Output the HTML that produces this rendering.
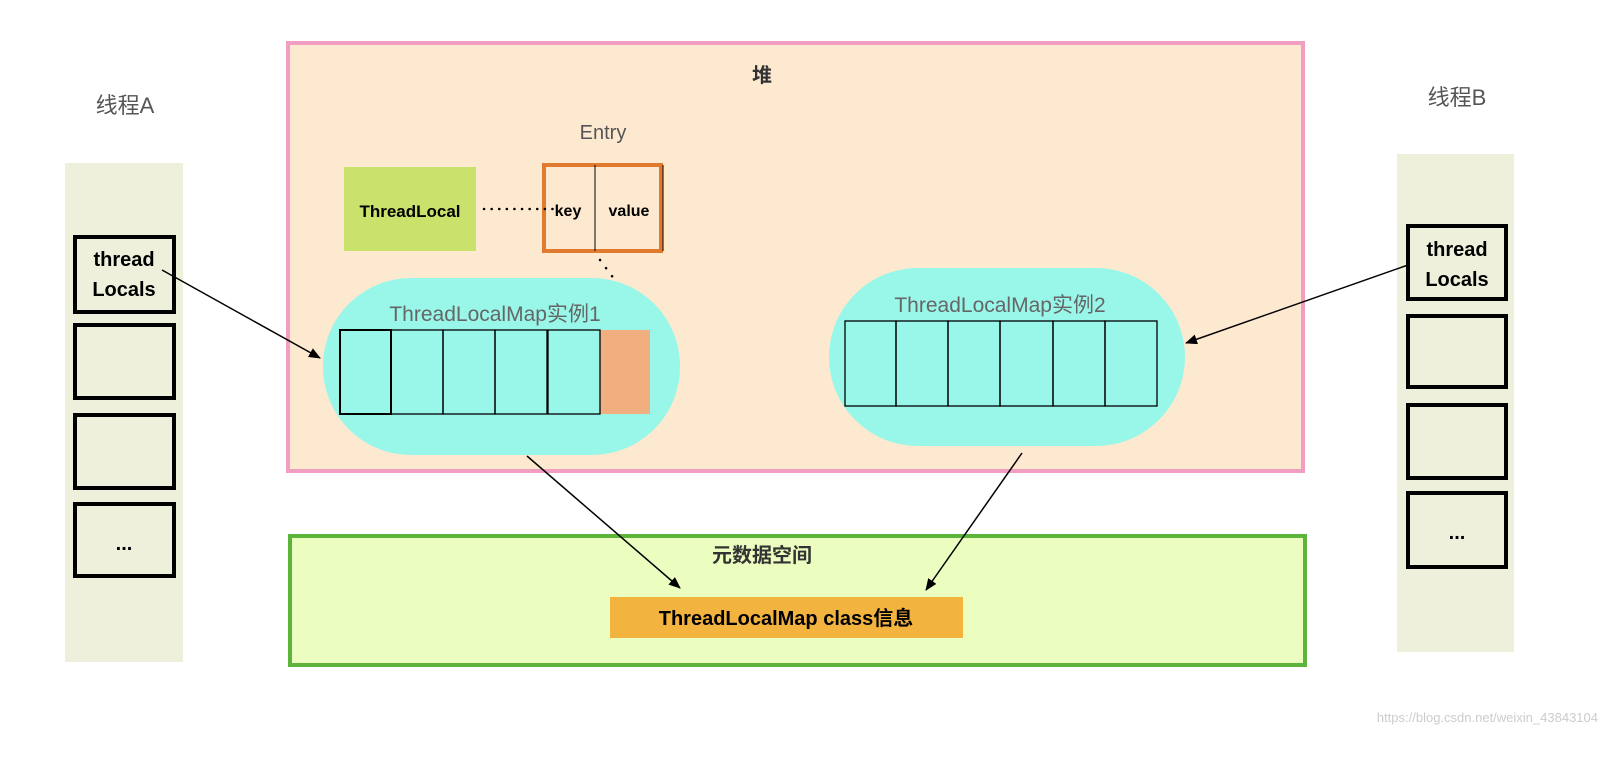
<!DOCTYPE html>
<html><head><meta charset="utf-8"><style>
body{margin:0;background:#fff;}
text{font-family:"Liberation Sans","Noto Sans CJK SC",sans-serif;}
</style></head><body>
<svg width="1608" height="754" xmlns="http://www.w3.org/2000/svg">
<defs><marker id="a" markerWidth="12" markerHeight="10" refX="11" refY="5" orient="auto" markerUnits="userSpaceOnUse"><path d="M0,0 L12,5 L0,10 z" fill="#000"/></marker></defs>
<rect width="1608" height="754" fill="#fff"/>
<!-- left thread -->
<text x="125" y="113" font-size="22" fill="#555" text-anchor="middle">线程A</text>
<rect x="65" y="163" width="118" height="499" fill="#eef0dc"/>
<g fill="none" stroke="#000" stroke-width="4">
<rect x="75" y="237" width="99" height="75"/>
<rect x="75" y="325" width="99" height="73"/>
<rect x="75" y="415" width="99" height="73"/>
<rect x="75" y="504" width="99" height="72"/>
</g>
<text x="124" y="266" font-size="20" font-weight="bold" text-anchor="middle">thread</text>
<text x="124" y="296" font-size="20" font-weight="bold" text-anchor="middle">Locals</text>
<text x="124" y="550" font-size="20" font-weight="bold" text-anchor="middle">...</text>
<!-- right thread -->
<text x="1457" y="105" font-size="22" fill="#555" text-anchor="middle">线程B</text>
<rect x="1397" y="154" width="117" height="498" fill="#eef0dc"/>
<g fill="none" stroke="#000" stroke-width="4">
<rect x="1408" y="226" width="98" height="73"/>
<rect x="1408" y="316" width="98" height="71"/>
<rect x="1408" y="405" width="98" height="73"/>
<rect x="1408" y="493" width="98" height="74"/>
</g>
<text x="1457" y="256" font-size="20" font-weight="bold" text-anchor="middle">thread</text>
<text x="1457" y="286" font-size="20" font-weight="bold" text-anchor="middle">Locals</text>
<text x="1457" y="539" font-size="20" font-weight="bold" text-anchor="middle">...</text>
<!-- heap -->
<rect x="288" y="43" width="1015" height="428" fill="#fde9d0" stroke="#f19ec2" stroke-width="4"/>
<text x="762" y="82" font-size="20" font-weight="bold" fill="#333" text-anchor="middle">堆</text>
<text x="603" y="139" font-size="20" fill="#555" text-anchor="middle">Entry</text>
<rect x="344" y="167" width="132" height="84" fill="#c8e26b"/>
<text x="410" y="217" font-size="17" font-weight="bold" text-anchor="middle">ThreadLocal</text>
<rect x="544" y="165" width="117" height="86" fill="none" stroke="#e07a2f" stroke-width="4"/>
<line x1="595" y1="165" x2="595" y2="251" stroke="#000" stroke-width="1"/>
<line x1="663" y1="165" x2="663" y2="251" stroke="#000" stroke-width="1"/>
<text x="568" y="216" font-size="16" font-weight="bold" text-anchor="middle">key</text>
<text x="629" y="216" font-size="16" font-weight="bold" text-anchor="middle">value</text>
<line x1="484" y1="209" x2="555" y2="209" stroke="#000" stroke-width="2.5" stroke-dasharray="0.1,7.5" stroke-linecap="round"/>
<line x1="600" y1="260" x2="652" y2="330" stroke="#000" stroke-width="2.5" stroke-dasharray="0.1,10" stroke-linecap="round"/>
<!-- map 1 -->
<rect x="323" y="278" width="357" height="177" rx="88" fill="#98f7e8"/>
<text x="495" y="321" font-size="21" fill="#666" text-anchor="middle">ThreadLocalMap实例1</text>
<rect x="600" y="330" width="50" height="84" fill="#f1ae7e"/>
<g fill="none" stroke="#000" stroke-width="1.3">
<rect x="340" y="330" width="51" height="84" stroke-width="2"/>
<rect x="391" y="330" width="52" height="84"/>
<rect x="443" y="330" width="52" height="84"/>
<rect x="495" y="330" width="52" height="84"/>
<rect x="548" y="330" width="52" height="84"/>
</g>
<!-- map 2 -->
<rect x="829" y="268" width="356" height="178" rx="89" fill="#98f7e8"/>
<text x="1000" y="312" font-size="21" fill="#666" text-anchor="middle">ThreadLocalMap实例2</text>
<g fill="none" stroke="#000" stroke-width="1.3">
<rect x="845" y="321" width="51" height="85"/>
<rect x="896" y="321" width="52" height="85"/>
<rect x="948" y="321" width="52" height="85"/>
<rect x="1000" y="321" width="53" height="85"/>
<rect x="1053" y="321" width="52" height="85"/>
<rect x="1105" y="321" width="52" height="85"/>
</g>
<!-- meta -->
<rect x="290" y="536" width="1015" height="129" fill="#ebfdbf" stroke="#5cb43a" stroke-width="4"/>
<text x="762" y="562" font-size="20" font-weight="bold" fill="#333" text-anchor="middle">元数据空间</text>
<rect x="610" y="597" width="353" height="41" fill="#f3b33f"/>
<text x="786" y="625" font-size="20" font-weight="bold" text-anchor="middle">ThreadLocalMap class信息</text>
<!-- arrows -->
<g stroke="#000" stroke-width="1.5" marker-end="url(#a)">
<line x1="162" y1="270" x2="320" y2="358"/>
<line x1="1408" y1="265" x2="1186" y2="343"/>
<line x1="527" y1="456" x2="680" y2="588"/>
<line x1="1022" y1="453" x2="926" y2="590"/>
</g>
<text x="1598" y="722" font-size="13" fill="#ccc" text-anchor="end">https://blog.csdn.net/weixin_43843104</text>
</svg>
</body></html>
